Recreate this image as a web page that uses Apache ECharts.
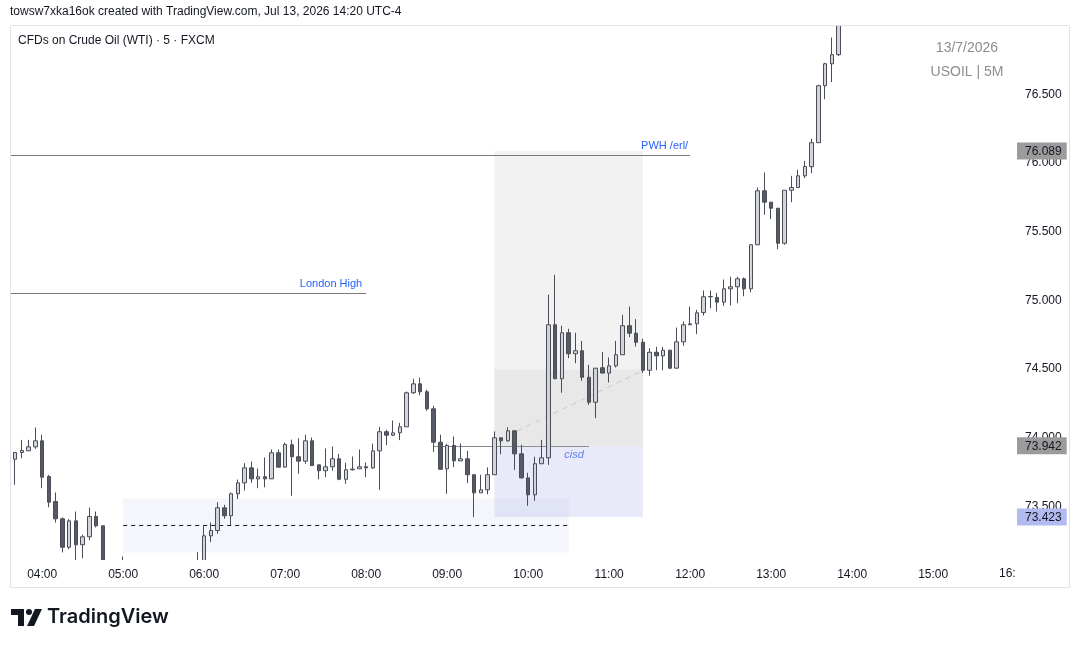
<!DOCTYPE html>
<html>
<head>
<meta charset="utf-8">
<title>USOIL 5M</title>
<script src="https://cdn.jsdelivr.net/npm/echarts@6/dist/echarts.min.js"></script>
<style>
  html, body { margin: 0; padding: 0; background: #fff; }
  #chart { width: 1080px; height: 647px; }
</style>
</head>
<body>
<div id="chart"></div>
<script>
// 5 minute bars, the first one starts at 03:35
const firstBar = '03:35';
const barStep = 5;

// one row per bar: [open, close, low, high]
const ohlc = [
  [74.05, 73.85, 73.83, 74.08],
  [73.844, 73.893, 73.658, 73.893],
  [73.893, 73.907, 73.851, 73.985],
  [73.905, 73.934, 73.905, 73.985],
  [73.934, 73.978, 73.920, 74.075],
  [73.978, 73.713, 73.633, 74.022], // 04:00
  [73.718, 73.531, 73.494, 73.730],
  [73.536, 73.410, 73.383, 73.602],
  [73.410, 73.203, 73.165, 73.420],
  [73.203, 73.395, 73.189, 73.407],
  [73.395, 73.221, 73.106, 73.463],
  [73.221, 73.279, 73.123, 73.294],
  [73.279, 73.427, 73.254, 73.492],
  [73.427, 73.359, 73.347, 73.463],
  [73.359, 73.05, 72.98, 73.36],
  [73.05, 72.95, 72.90, 73.08],
  [72.95, 72.98, 72.90, 73.05],
  [72.98, 73.04, 72.95, 73.135], // 05:00
  [73.04, 72.97, 72.93, 73.07],
  [72.97, 72.93, 72.88, 73.00],
  [72.93, 72.96, 72.89, 72.99],
  [72.96, 72.90, 72.86, 72.98],
  [72.90, 72.94, 72.86, 72.97],
  [72.94, 72.99, 72.92, 73.02],
  [72.99, 72.95, 72.93, 73.03],
  [72.95, 73.00, 72.92, 73.04],
  [73.00, 72.97, 72.95, 73.05],
  [72.97, 73.02, 72.95, 73.06],
  [73.02, 73.05, 72.99, 73.167],
  [73.05, 73.286, 73.02, 73.366], // 06:00
  [73.286, 73.325, 73.240, 73.383],
  [73.325, 73.490, 73.301, 73.531],
  [73.490, 73.432, 73.410, 73.512],
  [73.432, 73.592, 73.366, 73.602],
  [73.592, 73.672, 73.553, 73.696],
  [73.672, 73.781, 73.616, 73.815],
  [73.781, 73.701, 73.672, 73.827],
  [73.701, 73.716, 73.633, 73.776],
  [73.716, 73.701, 73.640, 73.857],
  [73.701, 73.891, 73.701, 73.915],
  [73.891, 73.786, 73.786, 73.915],
  [73.786, 73.951, 73.786, 73.964], // 07:00
  [73.949, 73.862, 73.578, 73.987],
  [73.862, 73.830, 73.738, 73.997],
  [73.830, 73.978, 73.811, 74.022],
  [73.978, 73.798, 73.793, 74.002],
  [73.803, 73.760, 73.698, 73.803],
  [73.760, 73.789, 73.713, 73.922],
  [73.789, 73.847, 73.760, 73.937],
  [73.847, 73.698, 73.691, 73.883],
  [73.698, 73.767, 73.665, 73.818],
  [73.767, 73.772, 73.762, 73.864],
  [73.774, 73.789, 73.774, 73.915],
  [73.789, 73.781, 73.713, 73.820], // 08:00
  [73.781, 73.905, 73.774, 73.958],
  [73.905, 74.044, 73.621, 74.080],
  [74.044, 74.019, 73.946, 74.058],
  [74.019, 74.036, 74.012, 74.126],
  [74.036, 74.080, 73.983, 74.109],
  [74.080, 74.328, 74.080, 74.337],
  [74.328, 74.393, 74.320, 74.430],
  [74.393, 74.335, 74.310, 74.439],
  [74.335, 74.211, 74.197, 74.350],
  [74.211, 73.968, 73.898, 74.233],
  [73.968, 73.771, 73.767, 74.022],
  [73.774, 73.944, 73.592, 73.956], // 09:00
  [73.944, 73.832, 73.786, 74.009],
  [73.832, 73.847, 73.832, 73.958],
  [73.847, 73.731, 73.669, 73.905],
  [73.731, 73.599, 73.422, 73.731],
  [73.599, 73.621, 73.599, 73.731],
  [73.621, 73.731, 73.589, 73.784],
  [73.731, 74.000, 73.731, 74.046],
  [74.000, 73.978, 73.881, 74.000],
  [73.978, 74.051, 73.971, 74.077],
  [74.051, 73.883, 73.767, 74.051],
  [73.883, 73.708, 73.704, 73.949],
  [73.708, 73.585, 73.505, 73.745], // 10:00
  [73.585, 73.811, 73.541, 73.862],
  [73.811, 73.854, 73.811, 73.985],
  [73.854, 74.823, 73.803, 75.042],
  [74.823, 74.430, 74.430, 75.187],
  [74.430, 74.765, 74.328, 74.816],
  [74.765, 74.612, 74.580, 74.794],
  [74.612, 74.634, 74.543, 74.765],
  [74.634, 74.441, 74.415, 74.706],
  [74.441, 74.259, 74.240, 74.532],
  [74.259, 74.507, 74.143, 74.507],
  [74.510, 74.471, 74.471, 74.626],
  [74.471, 74.524, 74.403, 74.585], // 11:00
  [74.524, 74.605, 74.512, 74.706],
  [74.605, 74.816, 74.605, 74.896],
  [74.816, 74.762, 74.733, 74.956],
  [74.762, 74.696, 74.665, 74.864],
  [74.696, 74.492, 74.473, 74.721],
  [74.492, 74.623, 74.452, 74.653],
  [74.623, 74.597, 74.492, 74.663],
  [74.597, 74.638, 74.492, 74.663],
  [74.638, 74.507, 74.502, 74.638],
  [74.507, 74.699, 74.507, 74.803],
  [74.699, 74.823, 74.670, 74.847],
  [74.823, 74.830, 74.823, 74.956], // 12:00
  [74.830, 74.910, 74.755, 74.932],
  [74.912, 75.027, 74.890, 75.073],
  [75.027, 75.029, 74.944, 75.073],
  [75.022, 74.988, 74.920, 75.056],
  [74.988, 75.085, 74.961, 75.153],
  [75.085, 75.100, 74.964, 75.173],
  [75.100, 75.158, 74.980, 75.173],
  [75.158, 75.085, 75.031, 75.168],
  [75.085, 75.406, 75.060, 75.406],
  [75.406, 75.799, 75.406, 75.823],
  [75.799, 75.716, 75.624, 75.932],
  [75.716, 75.672, 75.592, 75.716], // 13:00
  [75.672, 75.417, 75.374, 75.672],
  [75.417, 75.803, 75.406, 75.803],
  [75.803, 75.823, 75.716, 75.908],
  [75.823, 75.908, 75.823, 75.952],
  [75.908, 75.976, 75.891, 76.017],
  [75.974, 76.149, 75.927, 76.178],
  [76.149, 76.564, 76.149, 76.571],
  [76.564, 76.724, 76.466, 76.731],
  [76.724, 76.790, 76.590, 76.915],
  [76.790, 77.02, 76.78, 77.06]
];

const hourLabels = ['04:00', '05:00', '06:00', '07:00', '08:00', '09:00', '10:00',
  '11:00', '12:00', '13:00', '14:00', '15:00'];
const priceTicks = [73.5, 74, 74.5, 75, 75.5, 76, 76.5];
const priceTags = [76.089, 73.942, 73.423];

// drawn levels
const levelNames = ['PWH /erl/', 'London High'];
const levelPrices = [76.056, 75.051];
const levelEnds = ['12:00', '08:00'];
const cisdPrice = 73.942;
const cisdSpan = ['08:50', '10:45'];
// position box: top, middle, entry, bottom
const boxTimes = ['09:35', '11:25'];
const boxPrices = [76.089, 74.5, 73.942, 73.423];
// range box with its mid line
const rangeTimes = ['05:00', '10:30'];
const rangePrices = [73.165, 73.560];
const rangeMid = 73.366;
const trendStart = ['09:52', 74.05];
const trendEnd = ['11:25', 74.49];

const toMin = s => { const p = s.split(':'); return +p[0] * 60 + +p[1]; };
const fmtTime = m => String(Math.floor(m / 60)).padStart(2, '0') + ':' + String(m % 60).padStart(2, '0');

const t0 = toMin(firstBar);
const candles = ohlc.map((d, i) => [t0 + i * barStep, d[0], d[1], d[2], d[3]]);

const xMin = 216.15;
const xMax = 958.4;
const yMin = 73.110;
const yMax = 76.999;
const font = '"Liberation Sans", Arial, sans-serif';
const txt = '#131722';
const blue = '#2962ff';

const chart = echarts.init(document.getElementById('chart'));

// white masks so candles outside the pane are cut off like in the pane
const mask = (x, y, w, h) => ({ type: 'rect', z: 50, silent: true, shape: { x, y, width: w, height: h }, style: { fill: '#fff' } });

const option = {
  animation: false,
  backgroundColor: '#fff',
  grid: { left: 10, right: 68, top: 26, bottom: 87 },
  xAxis: {
    type: 'value',
    z: 60,
    min: xMin,
    max: xMax,
    axisLine: { show: false },
    axisTick: { show: false },
    splitLine: { show: false },
    axisLabel: {
      customValues: hourLabels.map(toMin),
      formatter: v => fmtTime(v),
      color: txt,
      fontSize: 12,
      fontFamily: font,
      margin: 9
    }
  },
  yAxis: [
    {
      type: 'value',
      position: 'right',
      z: 60,
      min: yMin,
      max: yMax,
      axisLine: { show: false },
      axisTick: { show: false },
      splitLine: { show: false },
      axisLabel: {
        customValues: priceTicks,
        formatter: v => v.toFixed(3),
        color: txt,
        fontSize: 12,
        fontFamily: font,
        margin: 13
      }
    },
    {
      type: 'value',
      position: 'right',
      z: 61,
      min: yMin,
      max: yMax,
      axisLine: { show: false },
      axisTick: { show: false },
      splitLine: { show: false },
      axisLabel: {
        customValues: priceTags,
        margin: 5,
        formatter: v => (v < 73.5 ? '{b|' : '{g|') + v.toFixed(3) + '}',
        rich: {
          g: { backgroundColor: '#9b9b9b', color: txt, fontSize: 12, fontFamily: font, padding: [3, 5, 2, 8] },
          b: { backgroundColor: '#b3baf0', color: txt, fontSize: 12, fontFamily: font, padding: [3, 5, 2, 8] }
        }
      }
    }
  ],
  series: [
    {
      type: 'candlestick',
      data: candles,
      encode: { x: 0, y: [1, 2, 3, 4] },
      barWidth: 4,
      itemStyle: {
        color: '#d1d4dc',
        color0: '#565a64',
        borderColor: '#4a4d56',
        borderColor0: '#4a4d56',
        borderWidth: 1
      },
      markArea: {
        silent: true,
        z: 0,
        data: [
          [{ coord: [toMin(boxTimes[0]), boxPrices[0]], itemStyle: { color: '#f2f2f2' } },
           { coord: [toMin(boxTimes[1]), boxPrices[1]] }],
          [{ coord: [toMin(boxTimes[0]), boxPrices[1]], itemStyle: { color: '#e8e8e8' } },
           { coord: [toMin(boxTimes[1]), boxPrices[2]] }],
          [{ coord: [toMin(boxTimes[0]), boxPrices[2]], itemStyle: { color: 'rgba(180,186,235,0.3)' } },
           { coord: [toMin(boxTimes[1]), boxPrices[3]] }],
          [{ coord: [toMin(rangeTimes[0]), rangePrices[0]], itemStyle: { color: 'rgba(180,186,235,0.13)' } },
           { coord: [toMin(rangeTimes[1]), rangePrices[1]] }]
        ]
      },
      markLine: {
        silent: true,
        z: 1,
        symbol: ['none', 'none'],
        label: { show: false },
        lineStyle: { color: '#7a7a7a', width: 1, type: 'solid' },
        data: [
          [{ coord: [xMin, levelPrices[0]],
             label: { show: true, formatter: levelNames[0], position: 'insideEndTop', color: blue, fontSize: 11, fontFamily: font, distance: [2, 4] } },
           { coord: [toMin(levelEnds[0]), levelPrices[0]] }],
          [{ coord: [xMin, levelPrices[1]],
             label: { show: true, formatter: levelNames[1], position: 'insideEndTop', color: blue, fontSize: 11, fontFamily: font, distance: [4, 4] } },
           { coord: [toMin(levelEnds[1]), levelPrices[1]] }],
          [{ coord: [toMin(cisdSpan[0]), cisdPrice], lineStyle: { color: '#8c8c8c' },
             label: { show: true, formatter: 'cisd', position: 'insideEndBottom', color: '#5b7cf5', fontSize: 11, fontStyle: 'italic', fontFamily: font, distance: [5, 4] } },
           { coord: [toMin(cisdSpan[1]), cisdPrice] }],
          [{ coord: [toMin(rangeTimes[0]), rangeMid], lineStyle: { color: '#131722', type: [4, 4] } },
           { coord: [toMin(rangeTimes[1]), rangeMid] }],
          [{ coord: [toMin(trendStart[0]), trendStart[1]], lineStyle: { color: '#c8c8c8', type: [5, 5] } },
           { coord: [toMin(trendEnd[0]), trendEnd[1]] }]
        ]
      }
    }
  ],
  graphic: [
    mask(0, 0, 1080, 26),
    mask(0, 560, 1080, 87),
    mask(0, 0, 10, 647),
    mask(1012, 0, 68, 647),
    { type: 'rect', z: 70, silent: true, shape: { x: 10.5, y: 25.5, width: 1059, height: 562 }, style: { fill: 'none', stroke: '#e0e3eb', lineWidth: 1 } },
    { type: 'text', z: 70, x: 10, y: 12, style: { text: 'towsw7xka16ok created with TradingView.com, Jul 13, 2026 14:20 UTC-4', font: '12px ' + font, fill: txt, verticalAlign: 'middle' } },
    { type: 'text', z: 70, x: 18, y: 41, style: { text: 'CFDs on Crude Oil (WTI) · 5 · FXCM', font: '12px ' + font, fill: txt, verticalAlign: 'middle' } },
    { type: 'text', z: 70, x: 967, y: 48, style: { text: '13/7/2026', font: '14px ' + font, fill: '#8d8d8d', align: 'center', verticalAlign: 'middle' } },
    { type: 'text', z: 70, x: 967, y: 72, style: { text: 'USOIL | 5M', font: '14px ' + font, fill: '#8d8d8d', align: 'center', verticalAlign: 'middle' } },
    { type: 'text', z: 70, x: 999, y: 574, style: { text: '16:', font: '12px ' + font, fill: txt, verticalAlign: 'middle' } },
    // TradingView logo
    { type: 'polygon', z: 70, shape: { points: [[11, 609], [24, 609], [24, 626], [18, 626], [18, 615], [11, 615]] }, style: { fill: txt } },
    { type: 'circle', z: 70, shape: { cx: 29, cy: 612, r: 3 }, style: { fill: txt } },
    { type: 'polygon', z: 70, shape: { points: [[35, 609], [42, 609], [34, 626], [27, 626]] }, style: { fill: txt } },
    { type: 'text', z: 70, x: 47, y: 617, style: { text: 'TradingView', font: '600 20px Inter, Roboto, sans-serif', fill: txt, verticalAlign: 'middle' } }
  ]
};

chart.setOption(option);
window.addEventListener('resize', () => chart.resize());
</script>
</body>
</html>
